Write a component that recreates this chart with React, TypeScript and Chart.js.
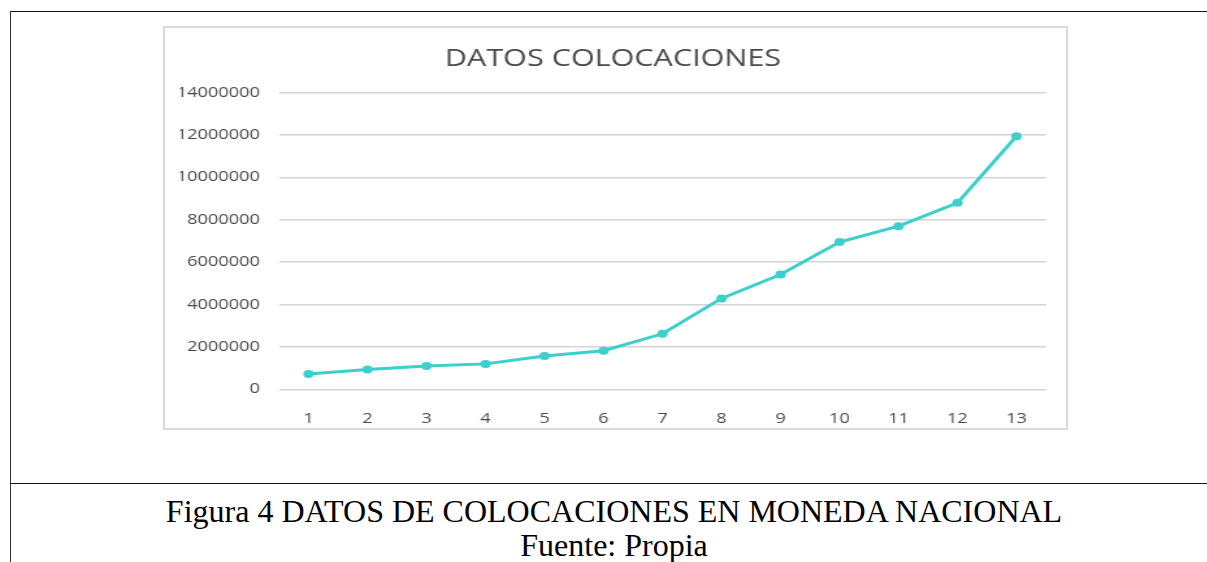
import React, { useEffect, useRef } from "react";
import { Chart, registerables } from "chart.js";

Chart.register(...registerables);

const categories = ["1", "2", "3", "4", "5", "6", "7", "8", "9", "10", "11", "12", "13"];
const colocaciones = [720000, 930000, 1100000, 1200000, 1570000, 1820000, 2620000, 4290000, 5420000, 6950000, 7700000, 8800000, 11950000];
const yTickLabels = ["0", "2000000", "4000000", "6000000", "8000000", "10000000", "12000000", "14000000"];
const chartTitle = "DATOS COLOCACIONES";
const captionLine1 = "Figura 4 DATOS DE COLOCACIONES EN MONEDA NACIONAL";
const captionLine2 = "Fuente: Propia";

const STRETCH = 1.3;
const CANVAS_W = 693;
const CANVAS_H = 400;
const TEXT_COLOR = "#4a4a4a";
const LINE_COLOR = "#3ccfcc";

export default function App() {
  const canvasRef = useRef<HTMLCanvasElement | null>(null);

  useEffect(() => {
    const canvas = canvasRef.current;
    if (!canvas) return;
    const tickFont = { family: "'Open Sans', sans-serif", size: 14 };
    const chart = new Chart(canvas, {
      type: "line",
      data: {
        labels: categories,
        datasets: [
          {
            label: "Colocaciones",
            data: colocaciones,
            borderColor: LINE_COLOR,
            backgroundColor: LINE_COLOR,
            borderWidth: 3,
            pointRadius: 4,
            pointBorderWidth: 0,
            pointBackgroundColor: LINE_COLOR,
            tension: 0,
            fill: false,
          },
        ],
      },
      options: {
        responsive: false,
        animation: false,
        devicePixelRatio: 1,
        layout: { padding: { left: 11.5, right: 15.3, top: 0, bottom: 0 } },
        plugins: {
          legend: { display: false },
          tooltip: { enabled: false },
          title: {
            display: true,
            text: chartTitle,
            color: TEXT_COLOR,
            font: { family: "'Open Sans', sans-serif", size: 23.5, weight: "normal" },
            padding: { top: 17.4, bottom: 19.1 },
          },
        },
        scales: {
          x: {
            type: "category",
            offset: true,
            grid: { display: false, drawTicks: false },
            border: { display: false },
            ticks: {
              color: TEXT_COLOR,
              font: tickFont,
              padding: 21.2,
              maxRotation: 0,
              autoSkip: false,
            },
            afterFit: (s: any) => {
              s.height = 38.7;
            },
          },
          y: {
            min: 0,
            max: 14000000,
            grid: { color: "#d4d4d4", lineWidth: 1.5, drawTicks: false },
            border: { display: false },
            ticks: {
              stepSize: 2000000,
              color: TEXT_COLOR,
              font: tickFont,
              padding: 14.6,
              callback: (_v: any, i: number) => yTickLabels[i],
            },
            afterFit: (s: any) => {
              s.width = 76.2;
            },
          },
        },
      },
    } as any);
    return () => chart.destroy();
  }, []);

  return (
    <div style={{ position: "absolute", left: 0, top: 0, width: 1207, height: 562, overflow: "hidden", background: "#fff" }}>
      <div style={{ position: "absolute", left: 10, top: 11, width: 1197, height: 1, background: "#111" }} />
      <div style={{ position: "absolute", left: 10, top: 11, width: 1, height: 551, background: "#333" }} />
      <div style={{ position: "absolute", left: 10, top: 483, width: 1197, height: 1, background: "#111" }} />
      <div
        style={{
          position: "absolute",
          left: 163,
          top: 26,
          width: 905,
          height: 404,
          border: "2px solid #d9d9d9",
          boxSizing: "border-box",
        }}
      />
      <canvas
        ref={canvasRef}
        width={CANVAS_W}
        height={CANVAS_H}
        style={{
          position: "absolute",
          left: 165,
          top: 28,
          width: CANVAS_W,
          height: CANVAS_H,
          transform: `scaleX(${STRETCH})`,
          transformOrigin: "0 0",
        }}
      />
      <div
        style={{
          position: "absolute",
          left: 14,
          top: 494,
          width: 1200,
          textAlign: "center",
          fontFamily: "'Liberation Serif', 'Times New Roman', serif",
          fontSize: 32,
          lineHeight: "34px",
          color: "#000",
        }}
      >
        <div>{captionLine1}</div>
        <div>{captionLine2}</div>
      </div>
    </div>
  );
}
